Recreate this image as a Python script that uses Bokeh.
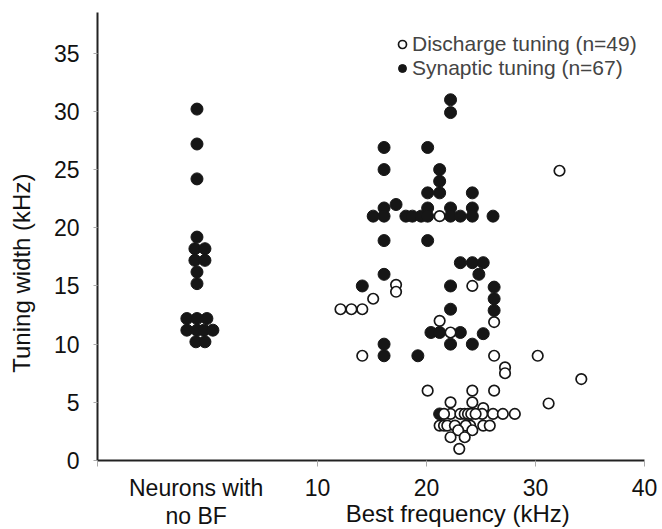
from bokeh.plotting import figure
from bokeh.models import Range1d, FixedTicker, Legend, LegendItem
from bokeh.embed import file_html
from bokeh.resources import INLINE

FONT = "Liberation Sans"
NB = "\u00a0"

# "Neurons with no BF" column (synaptic tuning), x = jittered position of that column
nobf_x = [-1.07, -1.07, -1.07, -1.07, -1.26, -0.34, -1.26, -0.34, -1.07, -1.07,
          -2.0, -1.07, -0.16, -2.0, -1.07, -0.43, 0.39, -1.17, -0.34]
nobf_y = [30.2, 27.2, 24.2, 19.2, 18.2, 18.2, 17.2, 17.2, 16.2, 15.2,
          12.2, 12.2, 12.2, 11.2, 11.2, 11.2, 11.2, 10.2, 10.2]

# Synaptic tuning, neurons with a best frequency (kHz)
syn_bf = [22.2, 22.2, 16.1, 20.1, 16.1, 21.2, 21.2, 20.1, 21.2, 24.2, 17.2, 16.1, 20.1, 22.2, 24.2,
          15.1, 16.1, 18.1, 18.7, 19.5, 20.1, 22.2, 23.1, 24.2, 26.1,
          16.1, 20.1, 23.1, 24.2, 25.2, 24.8, 16.1, 14.1, 22.2, 26.2, 26.2, 26.2, 22.2, 25.2,
          20.4, 21.2, 23.1, 22.2, 24.2, 16.1, 16.1, 19.2, 21.2]
syn_w = [31.0, 29.9, 26.9, 26.9, 25.0, 25.0, 24.0, 23.0, 23.0, 23.0, 22.0, 21.7, 21.7, 21.7, 21.7,
         21.0, 21.0, 21.0, 21.0, 21.0, 21.0, 21.0, 21.0, 21.0, 21.0,
         18.9, 18.9, 17.0, 17.0, 17.0, 16.0, 16.0, 15.0, 15.0, 14.9, 13.9, 12.9, 13.0, 10.9,
         11.0, 11.0, 11.0, 10.0, 10.0, 10.0, 9.0, 9.0, 4.0]

# Discharge tuning (kHz)
dis_bf = [32.2, 21.2, 17.2, 17.2, 24.2, 15.1, 12.1, 13.1, 14.1, 21.2, 26.2, 22.2, 14.1, 26.2, 30.2,
          27.2, 27.2, 34.2, 20.1, 24.2, 26.2, 31.2, 22.2, 24.2, 25.2,
          22.2, 23.1, 23.5, 23.8, 24.1, 25.1, 26.1, 27.0, 28.1, 24.5, 21.6,
          21.2, 21.6, 21.9, 22.6, 24.0, 25.2, 25.8, 23.6,
          22.9, 24.2, 22.2, 23.5, 23.0]
dis_w = [24.9, 21.0, 15.1, 14.5, 15.0, 13.9, 13.0, 13.0, 13.0, 12.0, 11.9, 11.0, 9.0, 9.0, 9.0,
         8.0, 7.5, 7.0, 6.0, 6.0, 6.0, 4.9, 5.0, 5.0, 4.5,
         4.0, 4.0, 4.0, 4.0, 4.0, 4.0, 4.0, 4.0, 4.0, 4.0, 4.0,
         3.0, 3.0, 3.0, 3.0, 3.0, 3.0, 3.0, 3.0,
         2.6, 2.6, 2.0, 2.0, 1.0]

nobf_pos = -1.15
nobf_label = "Neurons with\nno BF"
x_ticks = [10, 20, 30, 40]
y_ticks = [0, 5, 10, 15, 20, 25, 30, 35]
x_title = "Best frequency (kHz)"
y_title = "Tuning width (kHz)"

p = figure(width=662, height=529, output_backend="svg", toolbar_location=None,
           x_range=Range1d(-10.2, 40), y_range=Range1d(0, 38.5),
           min_border_left=97, min_border_right=18, min_border_top=12, min_border_bottom=68)
p.outline_line_color = None
p.grid.visible = False
p.background_fill_color = "white"
p.border_fill_color = "white"

syn_r = p.scatter(nobf_x + syn_bf, nobf_y + syn_w, size=12, fill_color="#161616",
                  line_color="#161616", line_width=1)
dis_r = p.scatter(dis_bf, dis_w, size=10.5, fill_color="white", line_color="#161616",
                  line_width=1.7)

for ax in (p.xaxis[0], p.yaxis[0]):
    ax.axis_line_color = "#222222"
    ax.axis_line_width = 2
    ax.major_tick_in = 0
    ax.minor_tick_in = 0
    ax.major_label_text_font = FONT
    ax.major_label_text_font_size = "23px"
    ax.major_label_text_color = "#111111"
    ax.axis_label_text_font = FONT
    ax.axis_label_text_font_size = "24px"
    ax.axis_label_text_font_style = "normal"
    ax.axis_label_text_color = "#111111"

xa = p.xaxis[0]
xa.ticker = FixedTicker(ticks=[nobf_pos] + x_ticks, minor_ticks=[-10.2] + x_ticks)
xa.major_label_overrides = {nobf_pos: nobf_label}
xa.major_label_text_line_height = 1.08
xa.major_tick_line_color = None
xa.major_tick_out = 6
xa.minor_tick_line_color = "#aaaaaa"
xa.minor_tick_out = 6
xa.major_label_standoff = 8
xa.axis_label = NB * 26 + x_title
xa.axis_label_standoff = -32

ya = p.yaxis[0]
ya.ticker = FixedTicker(ticks=y_ticks)
ya.major_tick_line_color = "#aaaaaa"
ya.minor_tick_line_color = None
ya.major_tick_out = 4
ya.major_label_standoff = 14
ya.axis_label = y_title + NB * 11
ya.axis_label_standoff = 16

legend = Legend(items=[LegendItem(label="Discharge tuning (n=49)", renderers=[dis_r]),
                       LegendItem(label="Synaptic tuning (n=67)", renderers=[syn_r])],
                location=(295, 380), padding=0, margin=0, spacing=0,
                glyph_width=20, glyph_height=22, label_height=22, label_standoff=-9,
                label_text_font=FONT, label_text_font_size="21px",
                border_line_color=None, background_fill_alpha=0)
p.add_layout(legend, "center")

open("out.html", "w").write(file_html(p, INLINE))
